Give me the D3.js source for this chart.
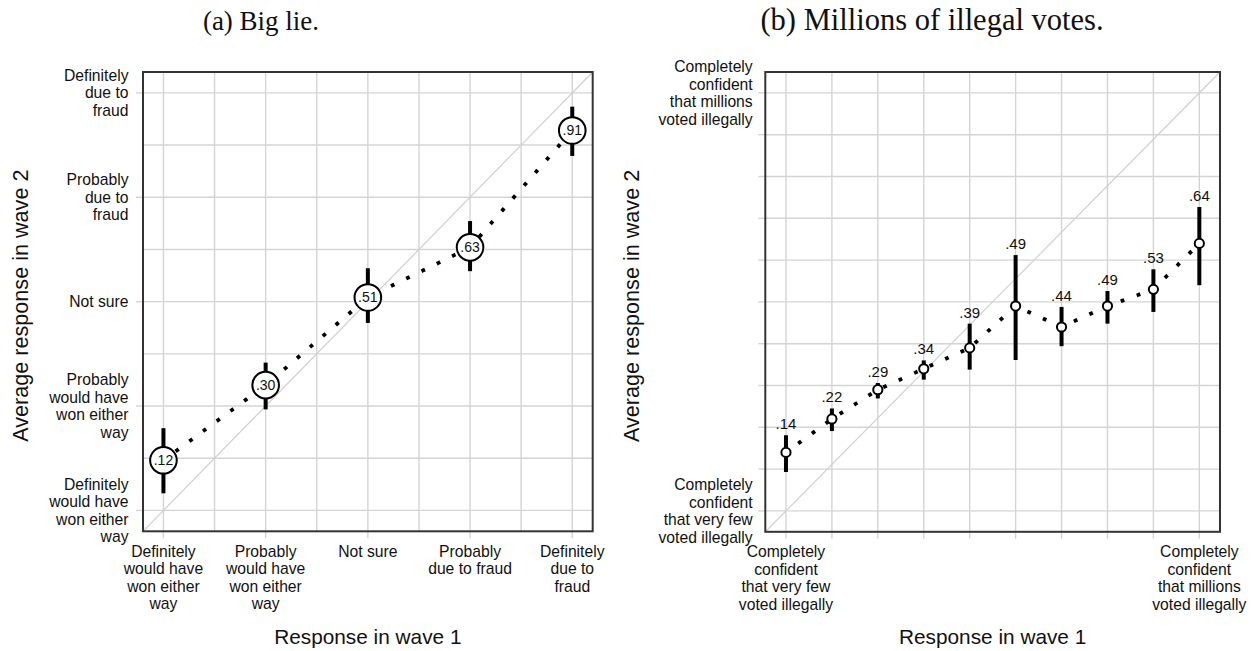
<!DOCTYPE html>
<html>
<head>
<meta charset="utf-8">
<script src="https://cdn.jsdelivr.net/npm/d3@7"></script>
<style>
  body { margin: 0; background: #fff; }
  svg { display: block; }
  text { font-family: "Liberation Sans", Arial, Helvetica, sans-serif; fill: #111; }
  .caption { font-family: "Liberation Serif", "Times New Roman", serif; }
</style>
</head>
<body>
<svg id="chart" width="1254" height="651"></svg>
<script>
// ---- Panel (a): "Big lie" ----
const bigLieCategories = [0, 0.25, 0.5, 0.75, 1];
const bigLieTickLabels = [
  ["Definitely", "would have", "won either", "way"],
  ["Probably", "would have", "won either", "way"],
  ["Not sure"],
  ["Probably", "due to fraud"],
  ["Definitely", "due to", "fraud"]
];
const bigLieYTickLabels = [
  ["Definitely", "would have", "won either", "way"],
  ["Probably", "would have", "won either", "way"],
  ["Not sure"],
  ["Probably", "due to", "fraud"],
  ["Definitely", "due to", "fraud"]
];
const bigLieMean = [0.12, 0.30, 0.51, 0.63, 0.91];
const bigLieLow  = [0.041, 0.242, 0.449, 0.573, 0.849];
const bigLieHigh = [0.197, 0.354, 0.580, 0.693, 0.967];
const bigLieLabels = [".12", ".30", ".51", ".63", ".91"];

// ---- Panel (b): "Millions of illegal votes" ----
const illegalCategories = [0, 1, 2, 3, 4, 5, 6, 7, 8, 9];
const illegalMean = [0.14, 0.22, 0.29, 0.34, 0.39, 0.49, 0.44, 0.49, 0.53, 0.64];
const illegalLow  = [0.093, 0.191, 0.269, 0.314, 0.338, 0.361, 0.394, 0.448, 0.476, 0.540];
const illegalHigh = [0.181, 0.245, 0.306, 0.360, 0.448, 0.612, 0.488, 0.526, 0.578, 0.727];
const illegalLabels = [".14", ".22", ".29", ".34", ".39", ".49", ".44", ".49", ".53", ".64"];
const illegalXTickLabels = [
  ["Completely", "confident", "that very few", "voted illegally"],
  [], [], [], [], [], [], [], [],
  ["Completely", "confident", "that millions", "voted illegally"]
];
const illegalYTickValues = [0, 1];
const illegalYTickLabels = [
  ["Completely", "confident", "that very few", "voted illegally"],
  ["Completely", "confident", "that millions", "voted illegally"]
];

const captions = ["(a) Big lie.", "(b) Millions of illegal votes."];
const xTitle = "Response in wave 1";
const yTitle = "Average response in wave 2";

const svg = d3.select("#chart");
const GRID = "#d4d4d4";
const TICK_FONT = 15.7;
const LINE_H = 17.4;

function multiLine(sel, lines, x, yFirst) {
  lines.forEach((ln, i) => {
    sel.append("tspan").attr("x", x).attr("y", yFirst + i * LINE_H).text(ln);
  });
}

function drawPanel(cfg) {
  const g = svg.append("g");
  const x = cfg.x, y = cfg.y;
  const [x0, x1] = x.range();
  const [y0, y1] = y.range(); // y0 bottom, y1 top

  // grid
  g.append("g").selectAll("line").data(cfg.xGrid).join("line")
    .attr("x1", d => x(d)).attr("x2", d => x(d))
    .attr("y1", y1).attr("y2", y0)
    .attr("stroke", GRID).attr("stroke-width", 1.4);
  g.append("g").selectAll("line").data(cfg.yGrid).join("line")
    .attr("y1", d => y(d)).attr("y2", d => y(d))
    .attr("x1", x0).attr("x2", x1)
    .attr("stroke", GRID).attr("stroke-width", 1.4);

  // 45-degree reference line (wave 2 = wave 1)
  g.append("line")
    .attr("x1", x0).attr("y1", y0).attr("x2", x1).attr("y2", y1)
    .attr("stroke", "#cfcfcf").attr("stroke-width", 1.2);

  // axis ticks
  g.append("g").selectAll("line").data(cfg.xTicks).join("line")
    .attr("x1", d => x(d)).attr("x2", d => x(d))
    .attr("y1", y0).attr("y2", y0 + 7)
    .attr("stroke", GRID).attr("stroke-width", 1.4);
  g.append("g").selectAll("line").data(cfg.yTicks).join("line")
    .attr("y1", d => y(d)).attr("y2", d => y(d))
    .attr("x1", x0 - 7).attr("x2", x0)
    .attr("stroke", GRID).attr("stroke-width", 1.4);

  // x tick labels
  cfg.xLabelValues.forEach((v, i) => {
    const lines = cfg.xLabels[i];
    if (!lines.length) return;
    const t = g.append("text").attr("text-anchor", "middle").style("font-size", TICK_FONT + "px");
    multiLine(t, lines, x(v), y0 + 20 + 5.5);
  });
  // y tick labels (vertically centred on tick)
  cfg.yLabelValues.forEach((v, i) => {
    const lines = cfg.yLabels[i];
    const t = g.append("text").attr("text-anchor", "end").style("font-size", TICK_FONT + "px");
    const first = y(v) - (lines.length - 1) * LINE_H / 2 + 5.5;
    multiLine(t, lines, cfg.yLabelX, first);
  });

  // dotted connecting line
  const pts = cfg.cats.map((c, i) => [x(c), y(cfg.mean[i])]);
  g.append("path")
    .attr("d", d3.line()(pts))
    .attr("fill", "none").attr("stroke", "#000")
    .attr("stroke-width", 3.8).attr("stroke-linecap", "square")
    .attr("stroke-dasharray", "0.01 17");

  // interval bars
  g.append("g").selectAll("line").data(cfg.cats).join("line")
    .attr("x1", d => x(d)).attr("x2", d => x(d))
    .attr("y1", (d, i) => y(cfg.low[i])).attr("y2", (d, i) => y(cfg.high[i]))
    .attr("stroke", "#000").attr("stroke-width", 4);

  // point markers
  g.append("g").selectAll("circle").data(cfg.cats).join("circle")
    .attr("cx", d => x(d)).attr("cy", (d, i) => y(cfg.mean[i]))
    .attr("r", cfg.r).attr("fill", "#fff").attr("stroke", "#000").attr("stroke-width", 2);

  // value labels
  if (cfg.labelInside) {
    g.append("g").selectAll("text").data(cfg.cats).join("text")
      .attr("x", d => x(d)).attr("y", (d, i) => y(cfg.mean[i]) + 5)
      .attr("text-anchor", "middle").style("font-size", "14px")
      .text((d, i) => cfg.labels[i]);
  } else {
    g.append("g").selectAll("text").data(cfg.cats).join("text")
      .attr("x", d => x(d)).attr("y", (d, i) => y(cfg.high[i]) - 6)
      .attr("text-anchor", "middle").style("font-size", "15px")
      .text((d, i) => cfg.labels[i]);
  }

  // frame
  g.append("rect")
    .attr("x", x0).attr("y", y1).attr("width", x1 - x0).attr("height", y0 - y1)
    .attr("fill", "none").attr("stroke", "#333").attr("stroke-width", 2);

  // axis titles
  g.append("text").attr("x", (x0 + x1) / 2).attr("y", 644)
    .attr("text-anchor", "middle").style("font-size", cfg.xTitleSize + "px").text(xTitle);
  g.append("text")
    .attr("transform", `translate(${cfg.yTitleX},${(y0 + y1) / 2 + 4}) rotate(-90)`)
    .attr("text-anchor", "middle").style("font-size", cfg.yTitleSize + "px").text(yTitle);

  // caption
  g.append("text").attr("class", "caption")
    .attr("x", cfg.captionX).attr("y", 29.5)
    .attr("text-anchor", "middle").style("font-size", cfg.captionSize + "px")
    .text(cfg.caption);
}

// Panel (a)
drawPanel({
  x: d3.scaleLinear().domain([-0.05, 1.05]).range([143, 592.7]),
  y: d3.scaleLinear().domain([-0.05, 1.05]).range([531.3, 72]),
  xGrid: d3.range(0, 1.0001, 0.125),
  yGrid: d3.range(0, 1.0001, 0.125),
  xTicks: bigLieCategories,
  yTicks: bigLieCategories,
  xLabelValues: bigLieCategories,
  xLabels: bigLieTickLabels,
  yLabelValues: bigLieCategories,
  yLabels: bigLieYTickLabels,
  yLabelX: 128.5,
  cats: bigLieCategories,
  mean: bigLieMean, low: bigLieLow, high: bigLieHigh, labels: bigLieLabels,
  r: 13.3, labelInside: true,
  xTitleSize: 20.8, yTitleSize: 21.6, yTitleX: 28,
  caption: captions[0], captionX: 261, captionSize: 27
});

// Panel (b)
drawPanel({
  x: d3.scaleLinear().domain([-0.45, 9.45]).range([765.3, 1220]),
  y: d3.scaleLinear().domain([-0.05, 1.05]).range([531.8, 72]),
  xGrid: illegalCategories,
  yGrid: d3.range(0, 1.0001, 0.1),
  xTicks: illegalCategories,
  yTicks: d3.range(0, 1.0001, 0.1),
  xLabelValues: illegalCategories,
  xLabels: illegalXTickLabels,
  yLabelValues: illegalYTickValues,
  yLabels: illegalYTickLabels,
  yLabelX: 752.7,
  cats: illegalCategories,
  mean: illegalMean, low: illegalLow, high: illegalHigh, labels: illegalLabels,
  r: 4.6, labelInside: false,
  xTitleSize: 20.8, yTitleSize: 21.6, yTitleX: 639,
  caption: captions[1], captionX: 932, captionSize: 30.5
});
</script>
</body>
</html>
